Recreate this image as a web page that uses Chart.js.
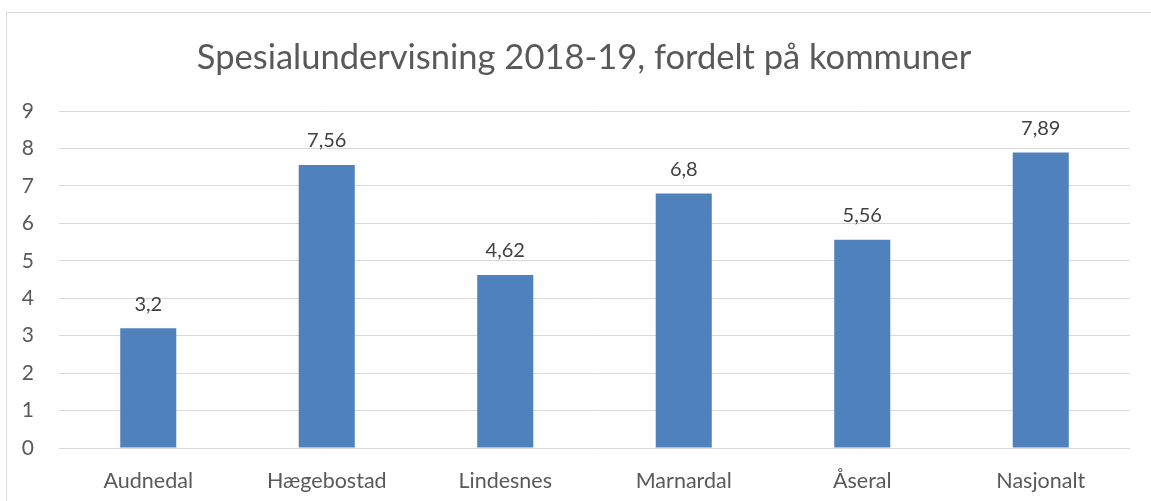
<!DOCTYPE html>
<html>
<head>
<meta charset="utf-8">
<script src="https://cdn.jsdelivr.net/npm/chart.js@4.4.1/dist/chart.umd.min.js"></script>
<style>
  html, body { margin: 0; padding: 0; background: #fff; overflow: hidden; }
  #frame { position: absolute; left: 6px; top: 12px; width: 1300px; height: 700px; border: 1px solid #d9d9d9; }
  #wrap { position: absolute; left: 0; top: 0; width: 1151px; height: 501px; }
</style>
</head>
<body>
<div id="frame"></div>
<div id="wrap"><canvas id="chart"></canvas></div>
<script>
const categories = ['Audnedal', 'Hægebostad', 'Lindesnes', 'Marnardal', 'Åseral', 'Nasjonalt'];
const values = [3.2, 7.56, 4.62, 6.8, 5.56, 7.89];
const yTicks = [0, 1, 2, 3, 4, 5, 6, 7, 8, 9];

const FONT = 'Lato, "Open Sans", sans-serif';

// draws the value above each bar, Norwegian decimal comma
const valueLabels = {
  id: 'valueLabels',
  afterDatasetsDraw(chart) {
    const ctx = chart.ctx;
    const meta = chart.getDatasetMeta(0);
    ctx.save();
    ctx.font = '20px ' + FONT;
    ctx.fillStyle = '#404040';
    ctx.textAlign = 'center';
    ctx.textBaseline = 'middle';
    meta.data.forEach((bar, i) => {
      ctx.fillText(String(values[i]).replace('.', ','), bar.x, bar.y - 24);
    });
    ctx.restore();
  }
};

// Excel centres the title on the whole frame, a bit right of the plot
const shiftTitle = {
  id: 'shiftTitle',
  afterLayout(chart) {
    if (chart.titleBlock) chart.titleBlock.left = 38;
  }
};

new Chart(document.getElementById('chart'), {
  type: 'bar',
  data: {
    labels: categories,
    datasets: [{
      data: values,
      backgroundColor: '#4f81bd',
      borderWidth: 0,
      categoryPercentage: 1,
      barPercentage: 0.314
    }]
  },
  options: {
    responsive: true,
    maintainAspectRatio: false,
    animation: false,
    layout: { padding: { left: 0, right: 21, top: 0, bottom: 0 } },
    plugins: {
      legend: { display: false },
      tooltip: { enabled: false },
      title: {
        display: true,
        text: 'Spesialundervisning 2018-19, fordelt på kommuner',
        color: '#595959',
        font: { family: FONT, size: 34.5, weight: 'normal' },
        padding: { top: 37, bottom: 32.6 }
      }
    },
    scales: {
      x: {
        grid: { display: false },
        border: { display: false },
        ticks: { color: '#595959', padding: 12, font: { family: FONT, size: 21.5 } },
        afterFit(scale) { scale.height = 53; }
      },
      y: {
        min: 0,
        max: 9,
        afterBuildTicks(scale) { scale.ticks = yTicks.map(v => ({ value: v })); },
        grid: { color: '#d9d9d9', lineWidth: 1, drawTicks: false },
        border: { display: false },
        ticks: { color: '#595959', padding: 25, font: { family: FONT, size: 21 } },
        afterFit(scale) { scale.width = 59; }
      }
    }
  },
  plugins: [valueLabels, shiftTitle]
});
</script>
</body>
</html>
